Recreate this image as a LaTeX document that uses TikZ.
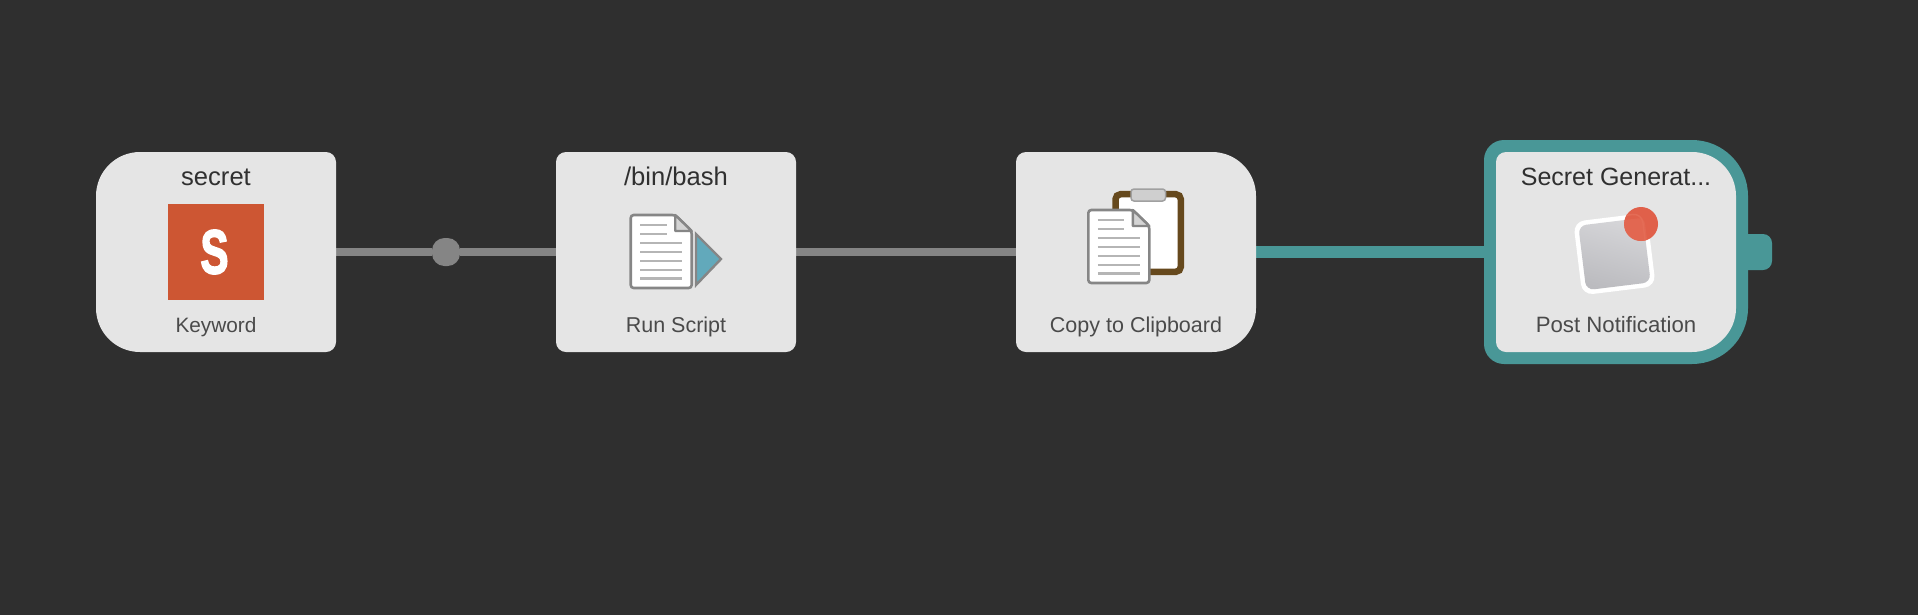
\documentclass[tikz,border=0pt]{standalone}
\usepackage{fontspec}
\setmainfont{Liberation Sans}
\newfontfamily\keyfont[UprightFont={* Bold},RawFeature={embolden=3}]{Liberation Sans}
\definecolor{bgc}{HTML}{2F2F2F}
\definecolor{boxc}{HTML}{E5E5E5}
\definecolor{linec}{HTML}{858585}
\definecolor{tealc}{HTML}{499797}
\definecolor{titlec}{HTML}{303030}
\definecolor{labelc}{HTML}{4A4A4A}
\definecolor{docline}{HTML}{B5B5B5}
\definecolor{docedge}{HTML}{868686}
\definecolor{foldc}{HTML}{D4D4D4}
\definecolor{playc}{HTML}{62A9BB}
\definecolor{keyc}{HTML}{CD5633}
\definecolor{brownc}{HTML}{66491D}
\definecolor{clipc}{HTML}{CFCFCF}
\definecolor{clipedge}{HTML}{A0A0A0}
\definecolor{redc}{HTML}{E0604A}
\definecolor{redl}{HTML}{E46C56}
\definecolor{sqtop}{HTML}{D6D6D9}
\definecolor{sqbot}{HTML}{BBBBBF}
% x0 y0 x1 y1 r-topleft r-topright r-bottomright r-bottomleft
\newcommand\cornerpath[8]{({#1+#5},#2) -- ({#3-#6},#2) arc[start angle=-90,end angle=0,radius=#6]
  -- (#3,{#4-#7}) arc[start angle=0,end angle=90,radius=#7]
  -- ({#1+#8},#4) arc[start angle=90,end angle=180,radius=#8]
  -- (#1,{#2+#5}) arc[start angle=180,end angle=270,radius=#5] -- cycle}
\newcommand\docicon[2]{%
  \begin{scope}[shift={(#1,#2)}]
    \draw[fill=white,draw=docedge,line width=2.6pt,rounded corners=3pt] (0,0) -- (44.5,0) -- (61,16) -- (61,73) -- (0,73) -- cycle;
    \draw[fill=foldc,draw=docedge,line width=2.4pt,line join=round] (44.5,0) -- (61,16) -- (44.5,16) -- cycle;
    \foreach \yy in {10,19}{\draw[docline,line width=2.4pt] (9.5,\yy) -- (36,\yy);}
    \foreach \yy in {27.7,37,45.7,54.7,63.3}{\draw[docline,line width=2.4pt] (9.5,\yy) -- (51.5,\yy);}
  \end{scope}}
\tikzset{
  procbox/.style={rectangle,minimum width=240pt,minimum height=200pt,inner sep=0pt,outer sep=0pt},
  titletext/.style={anchor=base,text=titlec,font=\fontsize{25.6}{30}\selectfont,inner sep=0pt},
  labeltext/.style={anchor=base,text=labelc,font=\fontsize{21.5}{25}\selectfont,inner sep=0pt},
  plainlink/.style={draw=linec,line width=8pt},
  teallink/.style={draw=tealc,line width=12pt},
  joint/.style={rectangle,fill=linec,rounded corners=12.5pt,minimum size=28pt,inner sep=0pt}
}
\begin{document}
\begin{tikzpicture}[x=1pt,y=-1pt]
\useasboundingbox (0,0) rectangle (1918,614);
\fill[bgc] (-1,-1) rectangle (1919,615);
\node[procbox] (kw) at (216,252) {};
\node[procbox] (rs) at (676,252) {};
\node[procbox] (cc) at (1136,252) {};
\node[procbox] (pn) at (1616,252) {};
\node[joint] (jt) at (446,252) {};
\path[plainlink] (kw.east) -- (jt.west);
\path[plainlink] (jt.east) -- (rs.west);
\path[plainlink] (rs.east) -- (cc.west);
\path[teallink] (cc.east) -- (pn.west);
% teal frame and stub
\fill[tealc] \cornerpath{1740}{234}{1772}{270}{0.01}{9}{9}{0.01};
\fill[tealc] \cornerpath{1484}{140}{1748}{364}{20}{56}{56}{20};
% boxes
\fill[boxc] \cornerpath{96}{152}{336}{352}{44}{10}{10}{44};
\fill[boxc] \cornerpath{556}{152}{796}{352}{10}{10}{10}{10};
\fill[boxc] \cornerpath{1016}{152}{1256}{352}{10}{44}{44}{10};
\fill[boxc] \cornerpath{1496}{152}{1736}{352}{10}{44}{44}{10};
% Keyword
\node[titletext] (t1) at (216,185) {secret};
\node[labeltext,font=\fontsize{20.8}{25}\selectfont] (l1) at (216,332) {Keyword};
\fill[keyc] (168,204) rectangle (264,300);
\node[text=white,inner sep=0pt,font=\keyfont\fontsize{62}{62}\selectfont,xscale=0.68] (s1) at (214.5,252) {S};
% Run Script
\node[titletext] (t2) at (676,185) {/bin/bash};
\node[labeltext] (l2) at (676,332) {Run Script};
\docicon{630.7}{215}
\draw[fill=playc,draw=docedge,line width=2.4pt,line join=miter] (696,234) -- (721,259) -- (696,285) -- cycle;
% Copy to Clipboard
\node[labeltext] (l3) at (1136,332) {Copy to Clipboard};
\draw[fill=white,draw=brownc,line width=6.5pt,rounded corners=5pt] (1115.5,194.2) rectangle (1180.8,271.8);
\draw[fill=clipc,draw=clipedge,line width=1.5pt,rounded corners=3pt] (1131,189) rectangle (1165.5,201);
\docicon{1088.3}{210}
% Post Notification
\node[titletext,font=\fontsize{25}{30}\selectfont] (t4) at (1616,185) {Secret Generat...};
\node[labeltext,font=\fontsize{22.2}{25}\selectfont] (l4) at (1616,332) {Post Notification};
\begin{scope}[shift={(1614.5,254)},rotate=7]
  \fill[white,rounded corners=11pt] (-37,-37) rectangle (37,37);
  \path[rounded corners=8pt,top color=sqtop,bottom color=sqbot,shading angle=-15] (-32.5,-32.5) rectangle (32.5,32.5);
\end{scope}
\fill[redc] (1641,224) circle (17);
\begin{scope}
  \clip (1641,224) circle (17);
  \begin{scope}[shift={(1614.5,254)},rotate=7]
    \draw[redl,line width=1.5pt,rounded corners=9pt] (-37,-37) rectangle (32,37);
    \fill[redl,opacity=.6,rounded corners=6pt] (-32.5,-32.5) rectangle (34,32.5);
  \end{scope}
\end{scope}
\end{tikzpicture}
\end{document}
